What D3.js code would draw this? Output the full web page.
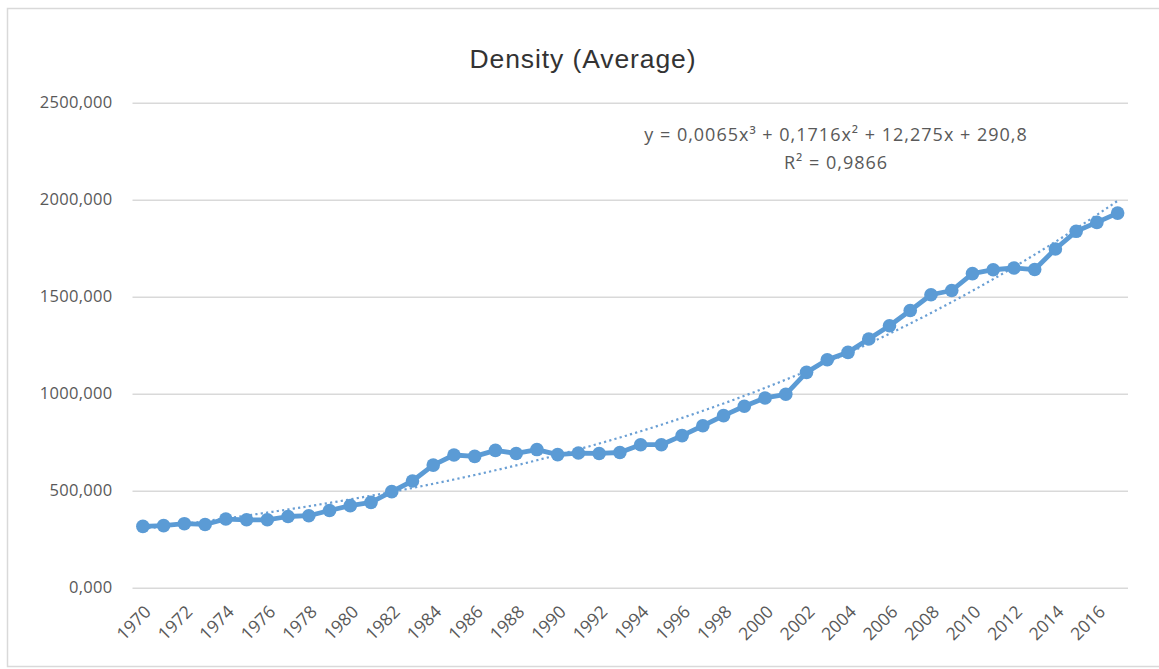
<!DOCTYPE html>
<html>
<head>
<meta charset="utf-8">
<script src="https://cdn.jsdelivr.net/npm/d3@7"></script>
<style>
  html, body { margin: 0; padding: 0; background: #ffffff; }
  svg { display: block; }
</style>
</head>
<body>
<svg id="chart" width="1159" height="669"></svg>
<script>
// Yearly average density, 1970–2017
const years = d3.range(1970, 2018).map(String);
const density = [
  316, 320, 330, 326, 354, 350, 350, 367, 371, 398,
  423, 440, 495, 550, 632, 684, 677, 708, 692, 712,
  686, 694, 692, 697, 737, 737, 784, 835, 887, 935,
  978, 997, 1110, 1175, 1213, 1282, 1350, 1429, 1510, 1532,
  1619, 1639, 1648, 1640, 1746, 1837, 1883, 1931
];
const yTicks = [0, 500, 1000, 1500, 2000, 2500];
const xTickLabels = years.filter((d, i) => i % 2 === 0);

// Polynomial trendline (order 3), x = 1..n, highest power first
const trendCoefs = [0.0065, 0.1716, 12.275, 290.8];
const trendLabel = "y = 0,0065x³ + 0,1716x² + 12,275x + 290,8";
const r2Label = "R² = 0,9866";
const title = "Density (Average)";

const svg = d3.select("#chart");
const blue = "#5b9bd5";
const font = "'Open Sans', 'Liberation Sans', sans-serif";

// Chart area outline
svg.append("rect")
  .attr("x", 7.5).attr("y", 8.5)
  .attr("width", 1200).attr("height", 658)
  .attr("fill", "#ffffff")
  .attr("stroke", "#d9d9d9")
  .attr("stroke-width", 1.5);

const x = d3.scaleBand().domain(years).range([132.5, 1128]).padding(0);
const y = d3.scaleLinear().domain([0, 2500]).range([587.7, 102.7]);
const cx = d => x(d) + x.bandwidth() / 2;

// Horizontal gridlines + value labels
const yAxis = d3.axisLeft(y)
  .tickValues(yTicks)
  .tickSize(-(1128 - 132.5))
  .tickPadding(20)
  .tickFormat(d => d3.format(".3f")(d).replace(".", ","));
const gy = svg.append("g").attr("transform", "translate(132.5,0)").call(yAxis);
gy.select(".domain").remove();
gy.selectAll(".tick line").attr("stroke", "#d9d9d9").attr("stroke-width", 1.5);
gy.selectAll(".tick text")
  .attr("fill", "#595959")
  .style("font-family", font)
  .style("font-size", "16.5px")
  .style("letter-spacing", "0.3px");

// Category axis, labels every second year, rotated
const xAxis = d3.axisBottom(x)
  .tickValues(xTickLabels)
  .tickSize(0)
  .tickPadding(0);
const gx = svg.append("g").attr("transform", "translate(0,587.7)").call(xAxis);
gx.select(".domain").remove();
gx.selectAll(".tick text")
  .attr("fill", "#595959")
  .style("font-family", font)
  .style("font-size", "17.5px")
  .attr("text-anchor", "end")
  .attr("dy", "0.35em")
  .attr("transform", "translate(5,21) rotate(-45)");

// Trendline from the fitted polynomial
const poly = t => trendCoefs.reduce((acc, c) => acc * t + c, 0);
const trendPts = d3.range(1, years.length + 0.001, 0.25).map(t => ({
  px: cx(years[0]) + (t - 1) * x.bandwidth(),
  v: poly(t)
}));
svg.append("path")
  .datum(trendPts)
  .attr("fill", "none")
  .attr("stroke", "#6a9fd4")
  .attr("stroke-width", 2.2)
  .attr("stroke-dasharray", "2.2,3.2")
  .attr("d", d3.line().x(d => d.px).y(d => y(d.v)));

// Data series
const series = years.map((yr, i) => ({ yr, v: density[i] }));
svg.append("path")
  .datum(series)
  .attr("fill", "none")
  .attr("stroke", blue)
  .attr("stroke-width", 4.8)
  .attr("stroke-linejoin", "round")
  .attr("d", d3.line().x(d => cx(d.yr)).y(d => y(d.v)));

svg.append("g").selectAll("circle")
  .data(series)
  .join("circle")
  .attr("cx", d => cx(d.yr))
  .attr("cy", d => y(d.v))
  .attr("r", 6.8)
  .attr("fill", blue);

// Title
svg.append("text")
  .attr("x", 583).attr("y", 68)
  .attr("text-anchor", "middle")
  .attr("fill", "#333333")
  .style("font-family", "'Liberation Sans', Arial, sans-serif")
  .style("font-size", "26.5px")
  .style("letter-spacing", "0.9px")
  .text(title);

// Trendline equation
svg.append("text")
  .attr("x", 836).attr("y", 141)
  .attr("text-anchor", "middle")
  .attr("fill", "#595959")
  .style("font-family", font)
  .style("font-size", "18px")
  .style("letter-spacing", "1px")
  .text(trendLabel);
svg.append("text")
  .attr("x", 836).attr("y", 169)
  .attr("text-anchor", "middle")
  .attr("fill", "#595959")
  .style("font-family", font)
  .style("font-size", "18px")
  .style("letter-spacing", "1px")
  .text(r2Label);
</script>
</body>
</html>
